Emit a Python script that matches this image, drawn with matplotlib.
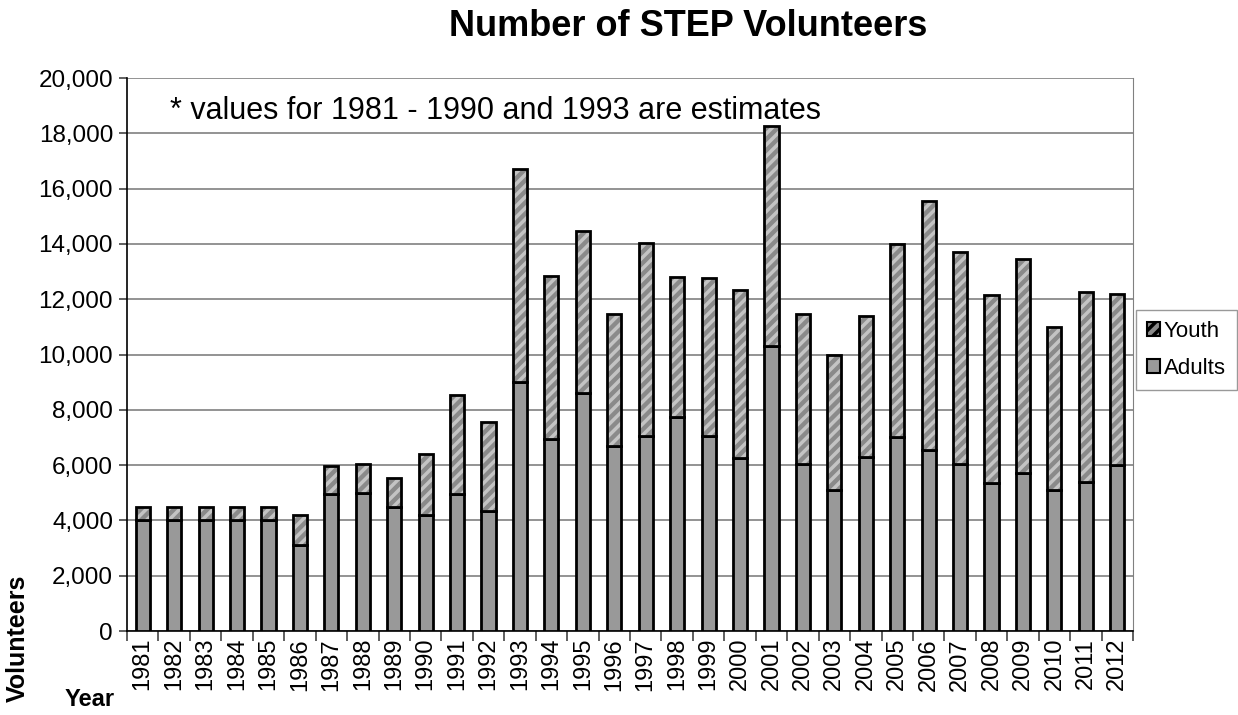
import matplotlib.pyplot as plt
import numpy as np
from matplotlib.patches import Patch
from matplotlib.ticker import FuncFormatter, FixedLocator

plt.rcParams['font.family'] = ['Liberation Sans', 'DejaVu Sans']

years = [str(y) for y in range(1981, 2013)]
adults = [4000, 4000, 4000, 4000, 4000, 3100, 4950, 5000, 4500, 4200,
          4950, 4350, 9000, 6950, 8600, 6700, 7050, 7750, 7050, 6250,
          10300, 6050, 5100, 6300, 7000, 6550, 6050, 5350, 5700, 5100,
          5400, 6000]
totals = [4500, 4500, 4500, 4500, 4500, 4200, 5950, 6050, 5550, 6400,
          8550, 7550, 16700, 12850, 14450, 11450, 14050, 12800, 12750, 12350,
          18250, 11450, 10000, 11400, 14000, 15550, 13700, 12150, 13450, 11000,
          12250, 12200]
youth = [t - a for t, a in zip(totals, adults)]

fig = plt.figure(figsize=(12.38, 7.15), dpi=100)
ax = fig.add_axes([127/1238, 1 - 631/715, 1006/1238, 553/715])

x = np.arange(len(years))
w = 0.45

# adults
ax.bar(x, adults, width=w, color='#999999', edgecolor='black', linewidth=2, zorder=3)
# youth: hatched fill in light grey, then black outline
plt.rcParams['hatch.linewidth'] = 2.5
ax.bar(x, youth, width=w, bottom=adults, color='#8a8a8a', edgecolor='#c4c4c4',
       hatch='///', linewidth=0, zorder=3)
ax.bar(x, youth, width=w, bottom=adults, fill=False, edgecolor='black',
       linewidth=2, zorder=4)

ax.set_xlim(-0.5, len(years) - 0.5)
ax.set_ylim(0, 20000)
ax.set_yticks(np.arange(0, 20001, 2000))
ax.yaxis.set_major_formatter(FuncFormatter(lambda v, p: f'{int(v):,}'))
ax.yaxis.grid(True, color='#808080', linewidth=1.2, zorder=0)

ax.set_xticks(x)
ax.set_xticklabels(years, rotation=90, fontsize=17)
ax.tick_params(axis='x', which='major', length=0, pad=5)
ax.xaxis.set_minor_locator(FixedLocator(np.arange(-0.5, len(years), 1)))
ax.tick_params(axis='x', which='minor', length=7, width=1.2, color='#444444')
ax.tick_params(axis='y', labelsize=17.5, length=6, width=1.2, color='#444444', pad=4)

ax.spines['top'].set_visible(False)
ax.spines['right'].set_color('#808080')
ax.spines['left'].set_linewidth(1.2)
ax.spines['bottom'].set_linewidth(1.2)

fig.text(688/1238, 1 - 27/715, 'Number of STEP Volunteers', ha='center', va='center',
         fontsize=26, fontweight='bold')
ax.text(0.043, 0.94, '* values for 1981 - 1990 and 1993 are estimates',
        transform=ax.transAxes, fontsize=22, va='center', ha='left')

fig.text(18/1238, 1 - 638/715, 'Volunteers', rotation=90, ha='center', va='center',
         fontsize=18, fontweight='bold')
fig.text(90/1238, 1 - 700/715, 'Year', ha='center', va='center',
         fontsize=17, fontweight='bold')

handles = [Patch(facecolor='#8a8a8a', edgecolor='black', hatch='///', linewidth=1.5),
           Patch(facecolor='#999999', edgecolor='black', linewidth=1.5)]
leg = fig.legend(handles, ['Youth', 'Adults'], loc='center left',
                 bbox_to_anchor=(1136/1238, 1 - 350/715), fontsize=16,
                 frameon=True, fancybox=False, handlelength=0.6, handleheight=0.6,
                 handletextpad=0.15, labelspacing=0.7, borderpad=0.5,
                 borderaxespad=0)
leg.get_frame().set_edgecolor('#808080')
leg.get_frame().set_linewidth(1)

fig.savefig('out.png', dpi=100)
